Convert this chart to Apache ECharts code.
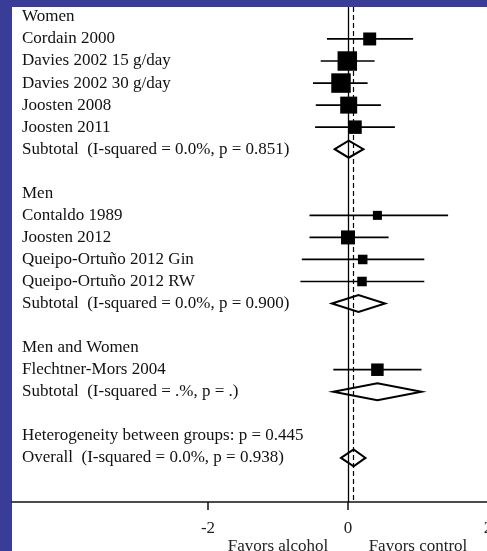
<!DOCTYPE html>
<html><head><meta charset="utf-8">
<script src="https://cdn.jsdelivr.net/npm/echarts@6/dist/echarts.min.js"></script>
<style>html,body{margin:0;padding:0;background:#393d97}#c{width:487px;height:551px}</style>
</head><body><div id="c"></div>
<script>
// Row labels (row index = position from top)
const rowLabels = [
  "Women",
  "Cordain 2000",
  "Davies 2002 15 g/day",
  "Davies 2002 30 g/day",
  "Joosten 2008",
  "Joosten 2011",
  "Subtotal  (I-squared = 0.0%, p = 0.851)",
  "",
  "Men",
  "Contaldo 1989",
  "Joosten 2012",
  "Queipo-Ortuño 2012 Gin",
  "Queipo-Ortuño 2012 RW",
  "Subtotal  (I-squared = 0.0%, p = 0.900)",
  "",
  "Men and Women",
  "Flechtner-Mors 2004",
  "Subtotal  (I-squared = .%, p = .)",
  "",
  "Heterogeneity between groups: p = 0.445",
  "Overall  (I-squared = 0.0%, p = 0.938)"
];
// Individual studies
const studyRows   = [1, 2, 3, 4, 5, 9, 10, 11, 12, 16];
const studyEst    = [0.31, -0.01, -0.10, 0.01, 0.10, 0.42, 0.00, 0.21, 0.20, 0.42];
const studyLow    = [-0.30, -0.39, -0.50, -0.46, -0.47, -0.55, -0.55, -0.66, -0.68, -0.21];
const studyHigh   = [0.93, 0.38, 0.28, 0.47, 0.67, 1.43, 0.58, 1.09, 1.09, 1.05];
const studyWeight = [8.7, 19.6, 19.6, 14.9, 9.4, 4.2, 10.1, 4.7, 4.7, 8.1];
// Pooled estimates (diamonds)
const diamondRows = [6, 13, 17, 20];
const diamondEst  = [0.01, 0.15, 0.42, 0.08];
const diamondLow  = [-0.19, -0.23, -0.21, -0.10];
const diamondHigh = [0.22, 0.53, 1.05, 0.25];
// Axis ticks and direction captions
const xTickValues = [-2, 0, 2];
const directionValues = [-1, 1];
const directionLabels = ["Favors alcohol", "Favors control"];

const FONT = "'Liberation Serif', 'Times New Roman', serif";
const chart = echarts.init(document.getElementById('c'));

const ciData = studyRows.map((r, i) => [studyLow[i], studyHigh[i], r]);
const sqData = studyRows.map((r, i) => [studyEst[i], r, studyWeight[i]]);
const dmData = diamondRows.map((r, i) => [diamondLow[i], diamondHigh[i], diamondEst[i], r]);
const labelRows = rowLabels.map((_, i) => i).filter(i => rowLabels[i] !== "");
const xLabelValues = xTickValues.concat(directionValues).sort((a, b) => a - b);

chart.setOption({
  animation: false,
  backgroundColor: '#393d97',
  graphic: [{
    type: 'rect', z: -10, silent: true,
    shape: { x: 12, y: 7, width: 480, height: 550 },
    style: { fill: '#ffffff' }
  }],
  grid: { left: 12, top: 7, width: 476, height: 495, containLabel: false, outerBoundsMode: 'none' },
  xAxis: {
    type: 'value', min: -4.8, max: 2, position: 'bottom',
    axisLine: { show: true, onZero: false, lineStyle: { color: '#111', width: 1.5 } },
    axisTick: { show: true, customValues: xTickValues, length: 8, lineStyle: { color: '#111', width: 1.5 } },
    axisLabel: {
      customValues: xLabelValues, margin: 18, fontFamily: FONT, fontSize: 17, color: '#222',
      lineHeight: 18, verticalAlign: 'top',
      formatter: v => {
        const k = directionValues.indexOf(v);
        return k >= 0 ? '\n' + directionLabels[k] : String(v);
      }
    },
    splitLine: { show: false }
  },
  yAxis: {
    type: 'value', inverse: true, min: -0.45, max: 22,
    axisLine: { show: false }, axisTick: { show: false }, splitLine: { show: false },
    axisLabel: {
      customValues: labelRows, align: 'left', margin: -10, padding: [3, 0, 0, 0],
      fontFamily: FONT, fontSize: 17, color: '#111',
      formatter: v => rowLabels[Math.round(v)]
    }
  },
  series: [{
    type: 'custom',
    encode: { x: [0, 1], y: 2 },
    data: ciData,
    renderItem: (params, api) => {
      const p1 = api.coord([api.value(0), api.value(2)]);
      const p2 = api.coord([api.value(1), api.value(2)]);
      return { type: 'line', shape: { x1: p1[0], y1: p1[1], x2: p2[0], y2: p2[1] },
        style: { stroke: '#000', lineWidth: 1.7 } };
    }
  }, {
    type: 'scatter',
    data: sqData, symbol: 'rect',
    symbolSize: d => 4.4 * Math.sqrt(d[2]),
    itemStyle: { color: '#000', opacity: 1 },
    markLine: {
      silent: true, symbol: ['none', 'none'], label: { show: false },
      data: [
        { xAxis: 0, lineStyle: { type: 'solid', color: '#000', width: 1.3 } },
        { xAxis: diamondEst[3], lineStyle: { type: [5, 3], color: '#000', width: 1.2 } }
      ]
    }
  }, {
    type: 'custom',
    encode: { x: [0, 1, 2], y: 3 },
    data: dmData,
    renderItem: (params, api) => {
      const row = api.value(3);
      const a = api.coord([api.value(0), row]);
      const b = api.coord([api.value(2), row]);
      const c = api.coord([api.value(1), row]);
      const h = 8.5;
      return { type: 'polygon',
        shape: { points: [[a[0], a[1]], [b[0], b[1] - h], [c[0], c[1]], [b[0], b[1] + h]] },
        style: { fill: 'none', stroke: '#000', lineWidth: 2 } };
    }
  }]
});
</script></body></html>
